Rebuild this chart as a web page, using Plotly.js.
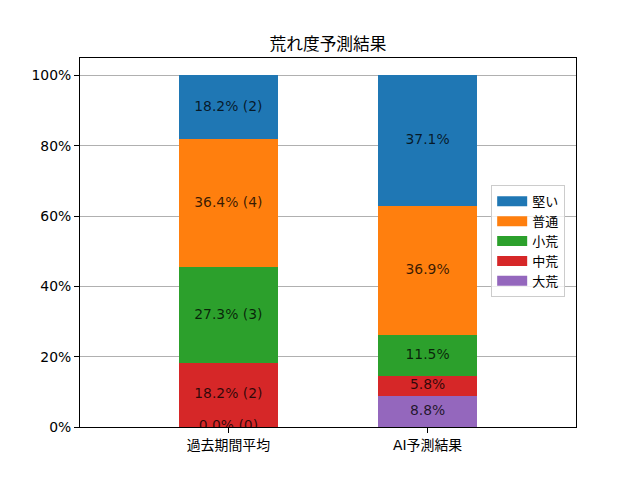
<!DOCTYPE html>
<html>
<head>
<meta charset="utf-8">
<script src="https://cdn.plot.ly/plotly-3.0.1.min.js"></script>
<style>html,body{margin:0;padding:0;background:#fff;}#chart{width:640px;height:480px;}</style>
</head>
<body>
<div id="chart"></div>
<script>
const categories = ['過去期間平均', 'AI予測結果'];
// stacking order bottom -> top
const seriesNames = ['大荒', '中荒', '小荒', '普通', '堅い'];
const seriesColors = ['#9467bd', '#d62728', '#2ca02c', '#ff7f0e', '#1f77b4'];
const pastPct = [0.0, 18.2, 27.3, 36.4, 18.2];
const pastCount = [0, 2, 3, 4, 2];
const aiPct = [8.8, 5.8, 11.5, 36.9, 37.1];
const yTicks = [0, 20, 40, 60, 80, 100];
const legendOrder = ['堅い', '普通', '小荒', '中荒', '大荒'];

const FONT = '"DejaVu Sans", "Noto Sans CJK JP", sans-serif';
const traces = [];
const cumPast = [0], cumAi = [0];
for (let i = 0; i < seriesNames.length; i++) {
  cumPast.push(cumPast[i] + pastPct[i]);
  cumAi.push(cumAi[i] + aiPct[i]);
}
// bars
for (let i = 0; i < seriesNames.length; i++) {
  traces.push({
    type: 'bar', x: categories, y: [pastPct[i], aiPct[i]],
    name: seriesNames[i], marker: {color: seriesColors[i], line: {width: 0}},
    width: 0.5, showlegend: false, hoverinfo: 'skip'
  });
}
// labels
for (let i = 0; i < seriesNames.length; i++) {
  traces.push({
    type: 'scatter', mode: 'text', x: categories,
    y: [cumPast[i] + pastPct[i] / 2, cumAi[i] + aiPct[i] / 2],
    text: [pastPct[i].toFixed(1) + '% (' + pastCount[i] + ')', aiPct[i].toFixed(1) + '%'],
    textposition: 'middle center', cliponaxis: true,
    textfont: {family: FONT, size: 13.9, color: 'rgba(0,0,0,0.78)'},
    showlegend: false, hoverinfo: 'skip'
  });
}
// legend entries
legendOrder.forEach(function(n) {
  const idx = seriesNames.indexOf(n);
  traces.push({
    type: 'scatter', mode: 'lines', x: [null], y: [null], name: n,
    line: {color: seriesColors[idx], width: 10}, showlegend: true, hoverinfo: 'skip'
  });
});

const layout = {
  width: 640, height: 480,
  margin: {l: 80, r: 64, t: 58, b: 53, pad: 0},
  paper_bgcolor: '#fff', plot_bgcolor: '#fff',
  barmode: 'stack',
  font: {family: FONT, size: 13.9, color: '#000'},
  title: {text: '荒れ度予測結果', font: {family: FONT, size: 16.7, color: '#000'},
          x: 0.5125, xref: 'container', xanchor: 'center', y: 1 - 44 / 480, yref: 'container', yanchor: 'middle'},
  xaxis: {type: 'category', range: [-0.745, 1.745], showgrid: false, zeroline: false,
          showline: true, linecolor: '#000', linewidth: 1, mirror: true,
          ticks: 'outside', ticklen: 5, tickcolor: '#000', tickfont: {family: FONT, size: 13.9}},
  yaxis: {range: [0, 105], tickvals: yTicks, ticktext: yTicks.map(v => v + '%'),
          showgrid: true, gridcolor: '#b0b0b0', gridwidth: 1, zeroline: false,
          showline: true, linecolor: '#000', linewidth: 1, mirror: true,
          ticks: 'outside', ticklen: 5, tickcolor: '#000', tickfont: {family: FONT, size: 13.9}},
  legend: {x: 0.829, y: 0.655, xanchor: 'left', yanchor: 'top', bgcolor: 'rgba(255,255,255,0.8)',
           bordercolor: '#cccccc', borderwidth: 1, font: {family: FONT, size: 13}, tracegroupgap: 0,
           traceorder: 'normal', itemwidth: 30},
  showlegend: true
};
Plotly.newPlot('chart', traces, layout, {staticPlot: true, displayModeBar: false});
</script>
</body>
</html>
